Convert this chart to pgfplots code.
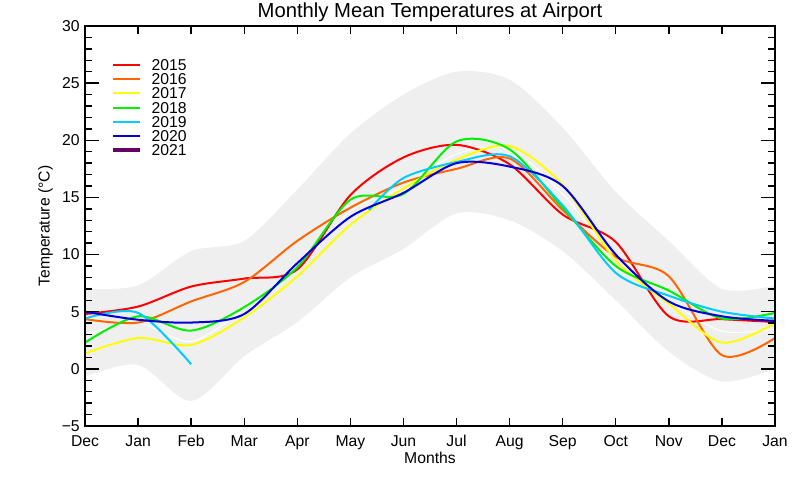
\documentclass[border=0pt]{standalone}
\usepackage{pgfplots}
\pgfplotsset{compat=1.18}
\usepgfplotslibrary{fillbetween}
\usepackage{fontspec}
\setmainfont{Liberation Sans}
\definecolor{c2015}{RGB}{255,0,0}
\definecolor{c2016}{RGB}{255,102,0}
\definecolor{c2017}{RGB}{255,255,0}
\definecolor{c2018}{RGB}{0,240,0}
\definecolor{c2019}{RGB}{0,204,255}
\definecolor{c2020}{RGB}{0,0,220}
\definecolor{c2021}{RGB}{102,0,102}
\definecolor{bandc}{RGB}{239,239,239}
\newcommand{\lblfont}{\fontsize{11.8}{14}\selectfont}
\begin{document}
\begin{tikzpicture}
\begin{axis}[
  scale only axis, width=517.5pt, height=300pt,
  at={(0pt,0pt)}, anchor=south west,
  xmin=0, xmax=13, ymin=-5, ymax=30,
  xtick={0,...,13},
  xticklabels={Dec,Jan,Feb,Mar,Apr,May,Jun,Jul,Aug,Sep,Oct,Nov,Dec,Jan},
  ytick={-5,0,...,30},
  yticklabels={−5,0,5,10,15,20,25,30},
  minor y tick num=4,
  tick align=inside,
  major tick length=10.5pt, minor tick length=5pt,
  xtick style={/pgfplots/major tick length=6pt},
  axis line style={line width=1pt},
  tick style={line width=1pt, black},
  axis on top,
  every axis title shift=0pt,
  title={Monthly Mean Temperatures at Airport},
  title style={at={(axis description cs:0.5,1)}, anchor=base, yshift=6.4pt, inner sep=0pt, font=\fontsize{15.2}{18}\selectfont},
  xlabel={Months},
  xlabel style={at={(axis description cs:0.5,-0.065)}, anchor=north, inner sep=0pt, font=\lblfont},
  ylabel={Temperature (°C)},
  ylabel style={at={(axis description cs:-0.046,0.5)}, anchor=south, inner sep=0pt, font=\lblfont},
  xticklabel style={inner sep=0pt, yshift=-6.75pt, font=\lblfont, text height=8.5pt, text depth=0pt},
  yticklabel style={inner sep=0pt, xshift=-3.75pt, font=\lblfont},
  legend style={at={(axis description cs:0.0377,0.9175)}, anchor=north west, draw=none, fill=none, inner sep=0pt, row sep=2.2pt, column sep=7.5pt, font=\lblfont, nodes={inner sep=0pt, text height=8.45pt, text depth=0pt}},
  legend cell align=left,
  legend image code/.code={\draw[#1] (0pt,0pt) -- (20pt,0pt);},
]
% climatological band
\addplot[name path=up, draw=none, smooth, forget plot] coordinates {
 (0,7.0) (1,7.3) (2,10.3) (3,11.2) (4,15.7) (5,20.6) (6,24.0) (7,26.0) (8,25.3) (9,21.1) (10,15.5) (11,11.2) (12,7.0) (13,7.3)};
\addplot[name path=lo, draw=none, smooth, forget plot] coordinates {
 (0,-0.7) (1,0.35) (2,-2.8) (3,1.1) (4,4.1) (5,8.0) (6,10.5) (7,13.6) (8,13.0) (9,10.3) (10,6.0) (11,1.5) (12,-1.1) (13,0.0)};
\addplot[bandc, forget plot] fill between[of=up and lo];
% faint mean line
\addplot[white, line width=0.8pt, smooth, forget plot] coordinates {
 (0,3.0) (1,4.0) (2,2.4) (3,5.2) (4,8.6) (5,13.8) (6,15.9) (7,18.8) (8,19.2) (9,15.3) (10,9.6) (11,6.0) (12,3.3) (13,3.5)};
% years
\addplot[c2015, line width=1.5pt, smooth] coordinates {
 (0,4.8) (1,5.45) (2,7.2) (3,7.9) (4,8.7) (5,15.2) (6,18.5) (7,19.6) (8,17.9) (9,13.5) (10,11.1) (11,4.6) (12,4.35) (13,4.1)};
\addlegendentry{2015}
\addplot[c2016, line width=1.5pt, smooth] coordinates {
 (0,4.35) (1,4.05) (2,5.9) (3,7.6) (4,11.2) (5,14.1) (6,16.3) (7,17.5) (8,18.4) (9,13.9) (10,9.8) (11,8.1) (12,1.2) (13,2.7)};
\addlegendentry{2016}
\addplot[c2017, line width=1.5pt, smooth] coordinates {
 (0,1.35) (1,2.7) (2,2.1) (3,4.5) (4,8.1) (5,12.6) (6,15.8) (7,18.3) (8,19.5) (9,16.1) (10,9.5) (11,5.7) (12,2.3) (13,4.0)};
\addlegendentry{2017}
\addplot[c2018, line width=1.5pt, smooth] coordinates {
 (0,2.3) (1,4.6) (2,3.35) (3,5.4) (4,8.9) (5,14.8) (6,15.3) (7,19.9) (8,19.2) (9,14.1) (10,9.0) (11,6.85) (12,4.4) (13,4.9)};
\addlegendentry{2018}
\addplot[c2019, line width=1.5pt, smooth] coordinates {
 (0,4.4) (1,4.9) (2,0.4)};
\addlegendentry{2019}
\addplot[c2019, line width=1.5pt, smooth, forget plot] coordinates {
 (5.35,13.9) (6,16.7) (7,18.1) (8,18.6) (9,14.3) (10,8.4) (11,6.4) (12,5.0) (13,4.4)};
\addplot[c2020, line width=1.5pt, smooth] coordinates {
 (0,5.0) (1,4.3) (2,4.05) (3,4.8) (4,9.25) (5,13.3) (6,15.4) (7,18.0) (8,17.7) (9,16.0) (10,10.0) (11,5.9) (12,4.6) (13,4.2)};
\addlegendentry{2020}
\addlegendimage{c2021, line width=2.8pt}
\addlegendentry{2021}
\end{axis}
\pgfresetboundingbox
\useasboundingbox (-63.75pt,-40.5pt) rectangle (536.25pt,319.5pt);
\end{tikzpicture}
\end{document}
